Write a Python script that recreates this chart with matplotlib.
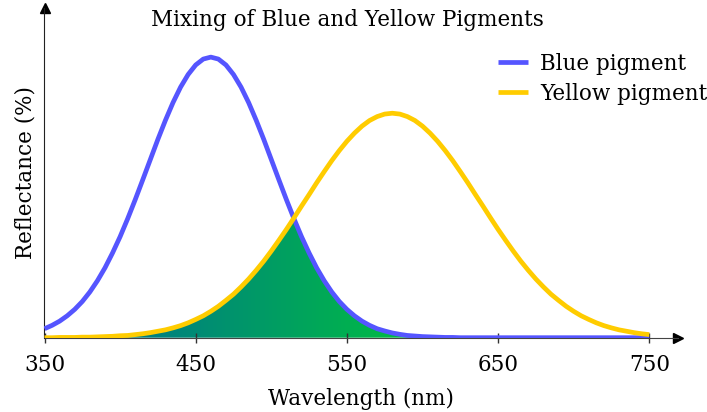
import numpy as np
import matplotlib
matplotlib.use("Agg")
import matplotlib.pyplot as plt
from matplotlib.colors import LinearSegmentedColormap

plt.rcParams['font.family'] = ['DejaVu Serif']

# wavelength samples (nm), every 5 nm, and reflectance
wavelength = list(range(350, 755, 5))
blue = [0.032, 0.044, 0.059, 0.078, 0.101, 0.129, 0.163, 0.203, 0.249, 0.302,
        0.360, 0.424, 0.492, 0.563, 0.635, 0.707, 0.775, 0.838, 0.893, 0.938,
        0.972, 0.993, 1.000, 0.993, 0.972, 0.938, 0.893, 0.838, 0.775, 0.707,
        0.635, 0.563, 0.492, 0.424, 0.360, 0.302, 0.249, 0.203, 0.163, 0.129,
        0.101, 0.078, 0.059, 0.044, 0.032, 0.024, 0.017, 0.012, 0.008, 0.006,
        0.004, 0.003, 0.002, 0.001, 0.001, 0.0, 0.0, 0.0, 0.0, 0.0,
        0.0, 0.0, 0.0, 0.0, 0.0, 0.0, 0.0, 0.0, 0.0, 0.0,
        0.0, 0.0, 0.0, 0.0, 0.0, 0.0, 0.0, 0.0, 0.0, 0.0, 0.0]
yellow = [0.000, 0.000, 0.001, 0.001, 0.001, 0.002, 0.002, 0.003, 0.004, 0.005,
          0.007, 0.008, 0.011, 0.014, 0.018, 0.023, 0.028, 0.035, 0.043, 0.053,
          0.065, 0.078, 0.094, 0.112, 0.133, 0.155, 0.181, 0.209, 0.240, 0.273,
          0.309, 0.347, 0.386, 0.427, 0.469, 0.510, 0.552, 0.592, 0.631, 0.667,
          0.700, 0.729, 0.754, 0.774, 0.788, 0.797, 0.800, 0.797, 0.788, 0.774,
          0.754, 0.729, 0.700, 0.667, 0.631, 0.592, 0.552, 0.510, 0.469, 0.427,
          0.386, 0.347, 0.309, 0.273, 0.240, 0.209, 0.181, 0.155, 0.133, 0.112,
          0.094, 0.078, 0.065, 0.053, 0.043, 0.035, 0.028, 0.023, 0.018, 0.014, 0.011]
xticks = [350, 450, 550, 650, 750]

blue_col = "#5555ff"
yellow_col = "#ffcc00"

x = np.array(wavelength)
b = np.array(blue)
y = np.array(yellow)
mix = np.minimum(b, y)

fig = plt.figure(figsize=(7.07, 4.12), dpi=100)
ax = fig.add_axes([44.5 / 707, 74.3 / 412, (678 - 44.5) / 707, (337.7 - 8) / 412])

# overlap area with horizontal gradient (teal -> green)
poly = ax.fill_between(x, 0, mix, facecolor="none", edgecolor="none")
lo, hi = (418 - 350) / 400, (600 - 350) / 400
cmap = LinearSegmentedColormap.from_list(
    "mix", [(0, "#008080"), (lo, "#008080"), (hi, "#00c040"), (1, "#00c040")])
grad = np.linspace(0, 1, 512).reshape(1, -1)
img = ax.imshow(grad, cmap=cmap, aspect="auto", extent=[350, 750, 0, 1], zorder=1)
img.set_clip_path(poly.get_paths()[0], transform=ax.transData)
ax.set_xlim(350, 769)
ax.set_ylim(0, 1.175)

ax.plot(x, b, color=blue_col, lw=3.4, label="Blue pigment", zorder=3, solid_capstyle="butt")
ax.plot(x, y, color=yellow_col, lw=3.4, label="Yellow pigment", zorder=4, solid_capstyle="butt")

# axes with arrows
for s in ["top", "right"]:
    ax.spines[s].set_visible(False)
ax.spines["left"].set_color("#222222")
ax.spines["bottom"].set_color("#444444")
ax.plot(1, 0, ">", color="black", ms=7, transform=ax.get_yaxis_transform(), clip_on=False)
ax.plot(350, 1, "^", color="black", ms=7, transform=ax.get_xaxis_transform(), clip_on=False)

ax.set_xticks(xticks)
ax.set_yticks([])
ax.tick_params(axis="x", direction="inout", length=7, width=1, color="#333333",
               labelsize=15.5, pad=8)
ax.set_xlabel("Wavelength (nm)", fontsize=15.5, labelpad=9)
ax.set_ylabel("Reflectance (%)", fontsize=15.5, labelpad=6)
fig.text(347.5 / 707, 1 - 20 / 412, "Mixing of Blue and Yellow Pigments",
         fontsize=15.5, ha="center", va="center")

ax.legend(loc="upper left", bbox_to_anchor=(498 / 707, 1 - 53 / 412),
          bbox_transform=fig.transFigure, frameon=False, fontsize=15.5,
          borderpad=0, borderaxespad=0, handlelength=1.4, handletextpad=0.55,
          labelspacing=0.35)

fig.savefig("out.png", dpi=100)
